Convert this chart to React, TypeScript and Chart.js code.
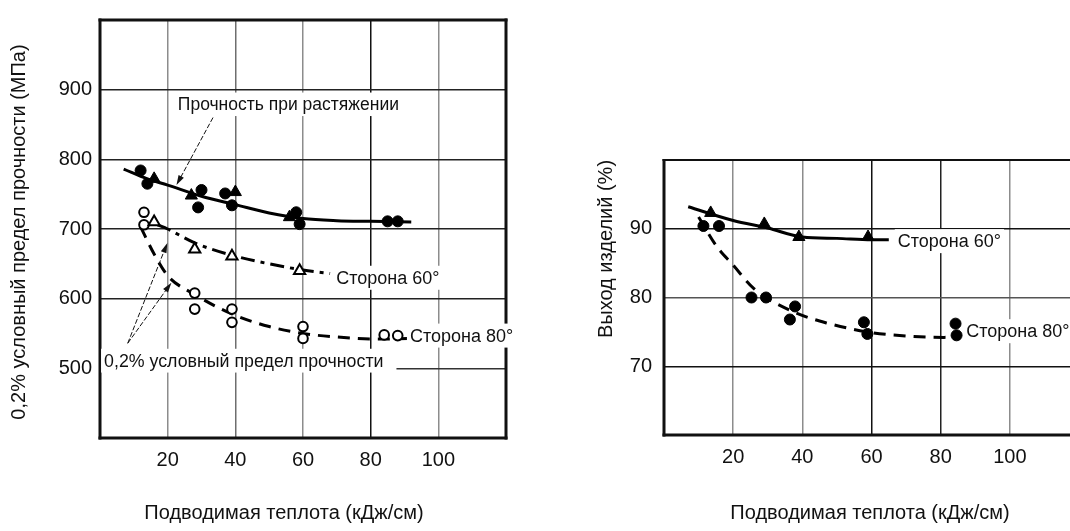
import React, { useEffect, useRef } from 'react';
import { Chart, registerables } from 'chart.js';

Chart.register(...registerables);

// ---------- Left chart data (MPa vs heat input kJ/cm) ----------
const tensileCircleHeat = [12, 14, 29, 30, 37, 39, 58, 59, 85, 88];
const tensileCircleVal = [784, 765, 731, 756, 751, 734, 724, 707, 711, 711];
const tensileTriHeat = [16, 27, 40, 56];
const tensileTriVal = [772, 748, 753, 717];
const tensileCurveHeat = [7, 14, 20, 30, 40, 50, 60, 70, 80, 92];
const tensileCurveVal = [786, 772, 763, 747, 735, 723, 715, 712, 711, 710];

const yield60Heat = [16, 28, 39, 59];
const yield60Val = [710, 671, 661, 640];
const yield60CurveHeat = [17, 20, 28, 40, 50, 60, 68];
const yield60CurveVal = [706, 700, 680, 661, 650, 641, 636];

const yield80Heat = [13, 13, 28, 28, 39, 39, 60, 60, 84, 88];
const yield80Val = [724, 706, 608, 585, 585, 566, 560, 543, 548, 547];
const yield80CurveHeat = [12, 16, 20, 28, 39, 50, 60, 70, 82, 91];
const yield80CurveVal = [703, 664, 633, 606, 578, 560, 550, 545, 542, 543];

// ---------- Right chart data (yield % vs heat input) ----------
const out60Heat = [13.5, 29, 39, 59];
const out60Val = [92.3, 90.7, 88.8, 88.8];
const out60CurveHeat = [7, 20, 30, 40, 50, 60, 65];
const out60CurveVal = [93.2, 91.2, 90.1, 88.8, 88.6, 88.4, 88.4];

const out80Heat = [11.4, 15.9, 25.3, 29.5, 37.9, 36.4, 57.8, 58.8, 84.3, 84.6];
const out80Val = [90.4, 90.4, 80, 80, 78.7, 76.8, 76.4, 74.7, 76.2, 74.5];
const out80CurveHeat = [10, 15, 20, 26, 37, 47, 60, 70, 81, 85];
const out80CurveVal = [91.7, 87.6, 84.7, 81.3, 78, 76.3, 74.9, 74.4, 74.2, 74.3];

// ---------- Tick labels ----------
const xTickLabels = [20, 40, 60, 80, 100];
const leftYTickLabels = [500, 600, 700, 800, 900];
const rightYTickLabels = [70, 80, 90];

const FONT = '"Liberation Sans", Arial, sans-serif';

const pts = (xs: number[], ys: number[]) => xs.map((x, i) => ({ x, y: ys[i] }));

const markerSet = (xs: number[], ys: number[], style: string, filled: boolean, r: number) => ({
  data: pts(xs, ys),
  showLine: false,
  pointStyle: style,
  pointRadius: r,
  pointBackgroundColor: filled ? '#000' : '#fff',
  pointBorderColor: '#000',
  pointBorderWidth: filled ? 1 : 2,
});

const curveSet = (xs: number[], ys: number[], dash: number[]) => ({
  data: pts(xs, ys),
  showLine: true,
  pointRadius: 0,
  borderColor: '#000',
  borderWidth: 3,
  borderDash: dash,
  cubicInterpolationMode: 'monotone',
  fill: false,
});

function drawArrow(ctx: CanvasRenderingContext2D, x1: number, y1: number, x2: number, y2: number, dash: number[]) {
  const ang = Math.atan2(y2 - y1, x2 - x1);
  const L = 10, W = 3;
  ctx.save();
  ctx.strokeStyle = '#111';
  ctx.fillStyle = '#111';
  ctx.lineWidth = 1;
  ctx.setLineDash(dash);
  ctx.beginPath();
  ctx.moveTo(x1, y1);
  ctx.lineTo(x2 - Math.cos(ang) * L * 0.8, y2 - Math.sin(ang) * L * 0.8);
  ctx.stroke();
  ctx.setLineDash([]);
  ctx.beginPath();
  ctx.moveTo(x2, y2);
  ctx.lineTo(x2 - Math.cos(ang) * L - Math.sin(ang) * W, y2 - Math.sin(ang) * L + Math.cos(ang) * W);
  ctx.lineTo(x2 - Math.cos(ang) * L + Math.sin(ang) * W, y2 - Math.sin(ang) * L - Math.cos(ang) * W);
  ctx.closePath();
  ctx.fill();
  ctx.restore();
}

const decorPlugin = {
  id: 'decor',
  afterDraw(chart: any, _args: any, opts: any) {
    const { ctx, chartArea: a, scales } = chart;
    const sx = scales.x, sy = scales.y;
    ctx.save();
    // frame
    const b = opts.border;
    ctx.strokeStyle = '#111';
    const line = (x1: number, y1: number, x2: number, y2: number, w: number) => {
      if (!w) return;
      ctx.lineWidth = w;
      ctx.beginPath();
      ctx.moveTo(x1, y1);
      ctx.lineTo(x2, y2);
      ctx.stroke();
    };
    line(a.left - b.left / 2, a.top, a.right + b.right / 2, a.top, b.top);
    line(a.left - b.left / 2, a.bottom, a.right + b.right / 2, a.bottom, b.bottom);
    line(a.left, a.top - b.top / 2, a.left, a.bottom + b.bottom / 2, b.left);
    line(a.right, a.top - b.top / 2, a.right, a.bottom + b.bottom / 2, b.right);

    // arrows (data coords)
    for (const ar of opts.arrows || []) {
      drawArrow(ctx, sx.getPixelForValue(ar.from[0]), sy.getPixelForValue(ar.from[1]),
        sx.getPixelForValue(ar.to[0]), sy.getPixelForValue(ar.to[1]), ar.dash);
    }
    // labels with white background
    ctx.textBaseline = 'middle';
    ctx.textAlign = 'left';
    for (const lb of opts.labels || []) {
      ctx.font = `${lb.size}px ${FONT}`;
      const x = sx.getPixelForValue(lb.x);
      const y = sy.getPixelForValue(lb.y);
      const w = ctx.measureText(lb.text).width;
      const h = lb.size + 6;
      ctx.fillStyle = '#fff';
      ctx.fillRect(x - 3, y - h / 2, w + 6 + (lb.extra || 0), h);
      ctx.fillStyle = '#111';
      ctx.fillText(lb.text, x, y + 1);
    }
    // axis titles (canvas coords)
    ctx.fillStyle = '#111';
    ctx.textAlign = 'center';
    ctx.font = `${opts.titleSize}px ${FONT}`;
    ctx.fillText(opts.xTitle.text, opts.xTitle.x, opts.xTitle.y);
    ctx.save();
    ctx.translate(opts.yTitle.x, opts.yTitle.y);
    ctx.rotate(-Math.PI / 2);
    ctx.fillText(opts.yTitle.text, 0, 0);
    ctx.restore();
    ctx.restore();
  },
};

const xGridLeft: Record<number, string> = { 20: '#8c8c8c', 40: '#6e6e6e', 60: '#8c8c8c', 80: '#111', 100: '#8c8c8c' };
const xGridRight: Record<number, string> = { 20: '#8c8c8c', 40: '#8c8c8c', 60: '#111', 80: '#222', 100: '#8c8c8c' };
const yGridLeft: Record<number, string> = { 500: '#333', 600: '#222', 700: '#222', 800: '#222', 900: '#222' };
const yGridRight: Record<number, string> = { 70: '#111', 80: '#555', 90: '#111' };

function baseConfig(
  datasets: any[],
  yMin: number, yMax: number, yStep: number, yLabels: number[],
  gridX: Record<number, string>, gridY: Record<number, string>,
  yWidth: number, xHeight: number, padding: any, yPad: number, decor: any,
) {
  return {
    type: 'scatter',
    data: { datasets },
    plugins: [decorPlugin],
    options: {
      animation: false,
      responsive: false,
      layout: { padding },
      plugins: { legend: { display: false }, tooltip: { enabled: false }, decor },
      scales: {
        x: {
          type: 'linear',
          min: 0, max: 120,
          afterFit: (s: any) => { s.height = xHeight; },
          border: { display: false },
          grid: {
            drawTicks: false,
            lineWidth: 1.5,
            color: (c: any) => gridX[c.tick?.value] || 'rgba(0,0,0,0)',
          },
          ticks: {
            stepSize: 20,
            padding: 10,
            color: '#111',
            font: { family: FONT, size: 20 },
            maxRotation: 0,
            callback: (v: number) => (xTickLabels.includes(v) ? String(v) : ''),
          },
        },
        y: {
          type: 'linear',
          min: yMin, max: yMax,
          afterFit: (s: any) => { s.width = yWidth; },
          border: { display: false },
          grid: {
            drawTicks: false,
            lineWidth: 1.5,
            color: (c: any) => gridY[c.tick?.value] || 'rgba(0,0,0,0)',
          },
          ticks: {
            stepSize: yStep,
            padding: yPad,
            color: '#111',
            font: { family: FONT, size: 20 },
            callback: (v: number) => (yLabels.includes(v) ? String(v) : ''),
          },
        },
      },
    },
  };
}

function leftConfig() {
  const datasets = [
    markerSet(tensileCircleHeat, tensileCircleVal, 'circle', true, 5.5),
    markerSet(tensileTriHeat, tensileTriVal, 'triangle', true, 7),
    markerSet(yield60Heat, yield60Val, 'triangle', false, 6.5),
    markerSet(yield80Heat, yield80Val, 'circle', false, 4.8),
    curveSet(tensileCurveHeat, tensileCurveVal, []),
    curveSet(yield60CurveHeat, yield60CurveVal, [14, 6, 4, 6]),
    curveSet(yield80CurveHeat, yield80CurveVal, [12, 8]),
  ];
  const decor = {
    border: { top: 3, bottom: 3, left: 3, right: 3 },
    arrows: [
      { from: [33.4, 860], to: [22.6, 763], dash: [5, 2] },
      { from: [8.2, 536], to: [19.9, 680], dash: [5, 2] },
      { from: [8.2, 536], to: [21.1, 623], dash: [5, 2] },
    ],
    labels: [
      { text: 'Прочность при растяжении', x: 23, y: 879, size: 17.5 },
      { text: 'Сторона 60°', x: 69.8, y: 630, size: 18 },
      { text: 'Сторона 80°', x: 91.6, y: 547, size: 18 },
      { text: '0,2% условный предел прочности', x: 1.2, y: 511, size: 17.8, extra: 10 },
    ],
    titleSize: 20,
    xTitle: { text: 'Подводимая теплота (кДж/см)', x: 284, y: 513 },
    yTitle: { text: '0,2% условный предел прочности (МПа)', x: 19, y: 232 },
  };
  return baseConfig(datasets, 400, 1000, 100, leftYTickLabels, xGridLeft, yGridLeft,
    100, 93, { left: 0, top: 7, right: 54, bottom: 0 }, 8, decor);
}

function rightConfig() {
  const datasets = [
    markerSet(out60Heat, out60Val, 'triangle', true, 7),
    markerSet(out80Heat, out80Val, 'circle', true, 5.5),
    curveSet(out60CurveHeat, out60CurveVal, []),
    curveSet(out80CurveHeat, out80CurveVal, [12, 8]),
  ];
  const decor = {
    border: { top: 2, bottom: 3, left: 3, right: 0 },
    arrows: [],
    labels: [
      { text: 'Сторона 60°', x: 67.6, y: 88.2, size: 18 },
      { text: 'Сторона 80°', x: 87.4, y: 75.1, size: 18 },
    ],
    titleSize: 20,
    xTitle: { text: 'Подводимая теплота (кДж/см)', x: 310, y: 513 },
    yTitle: { text: 'Выход изделий (%)', x: 46, y: 249 },
  };
  return baseConfig(datasets, 60, 100, 10, rightYTickLabels, xGridRight, yGridRight,
    104, 96, { left: 0, top: 160, right: 41, bottom: 0 }, 12, decor);
}

export default function App() {
  const leftRef = useRef<HTMLCanvasElement>(null);
  const rightRef = useRef<HTMLCanvasElement>(null);
  useEffect(() => {
    const c1 = new Chart(leftRef.current as HTMLCanvasElement, leftConfig() as any);
    const c2 = new Chart(rightRef.current as HTMLCanvasElement, rightConfig() as any);
    return () => { c1.destroy(); c2.destroy(); };
  }, []);
  return (
    <div style={{ position: 'absolute', left: 0, top: 0, width: 1070, height: 531, overflow: 'hidden', background: '#fff' }}>
      <canvas ref={leftRef} width={560} height={531}
        style={{ position: 'absolute', left: 0, top: 0, width: 560, height: 531 }} />
      <canvas ref={rightRef} width={560} height={531}
        style={{ position: 'absolute', left: 560, top: 0, width: 560, height: 531 }} />
    </div>
  );
}
